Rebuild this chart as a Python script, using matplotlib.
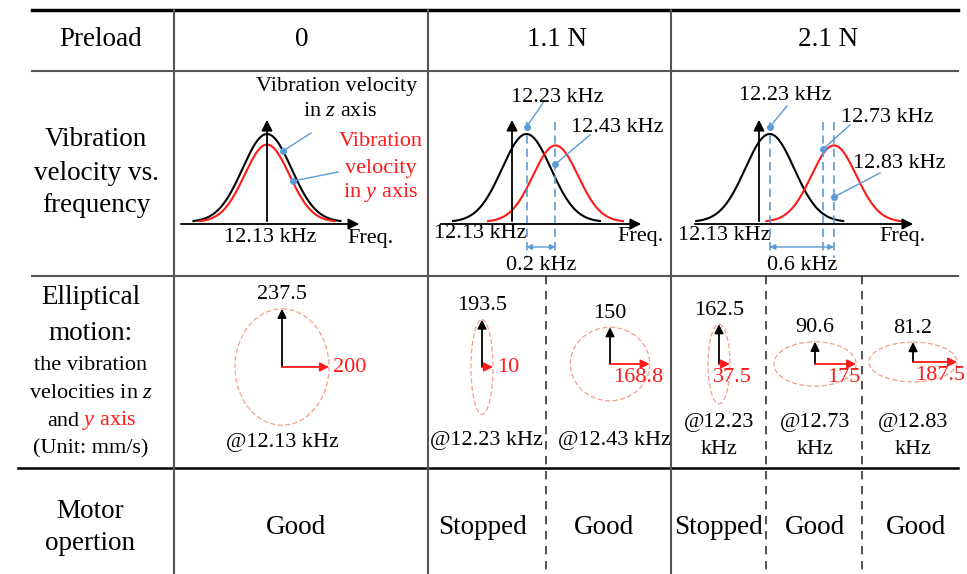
import numpy as np
import matplotlib
matplotlib.use("Agg")
import matplotlib.pyplot as plt
from matplotlib.patches import Ellipse

plt.rcParams['font.family'] = ['Liberation Serif', 'DejaVu Serif']
plt.rcParams['mathtext.fontset'] = 'custom'
plt.rcParams['mathtext.rm'] = 'Liberation Serif'
plt.rcParams['mathtext.it'] = 'Liberation Serif:italic'

# ---------------- DATA ----------------
preloads = ["0", "1.1 N", "2.1 N"]
z_peak_khz = [12.13, 12.23, 12.23]       # black curve (z axis) resonance
y_peak_khz = [12.13, 12.43, 12.83]       # red curve (y axis) resonance
extra_khz = [None, None, 12.73]          # extra marked frequency
base_khz = 12.13
z_amp = [1.0, 1.0, 1.0]
y_amp = [0.88, 0.87, 0.87]

ell_freq = ["12.13", "12.23", "12.43", "12.23", "12.73", "12.83"]
vz = [237.5, 193.5, 150, 162.5, 90.6, 81.2]
vy = [200, 10, 168.8, 37.5, 175, 187.5]
motor = ["Good", "Stopped", "Good", "Stopped", "Good", "Good"]

# ---------------- LAYOUT ----------------
BLUE = '#5b9bd5'
RED = '#ff1a1a'
GRID = '#555555'
BIG = 19.5
SMALL = 16

fig = plt.figure(figsize=(9.67, 5.74), dpi=100)
ax = fig.add_axes([0, 0, 1, 1])
ax.set_xlim(0, 967)
ax.set_ylim(574, 0)
ax.axis('off')

# table lines
ax.plot([32, 958], [10, 10], color='k', lw=2.5)
ax.plot([32, 958], [71, 71], color=GRID, lw=1.5)
ax.plot([32, 958], [276, 276], color=GRID, lw=1.5)
ax.plot([18, 958], [468, 468], color='k', lw=1.8)
for x in [174, 428, 671]:
    ax.plot([x, x], [10, 574], color=GRID, lw=1.5)
for x in [546, 766, 862]:
    ax.plot([x, x], [276, 574], color='#333333', lw=1.2, ls=(0, (5, 4)))

# header row
ax.text(101, 39, "Preload", fontsize=BIG, ha='center', va='center')
for xc, p in zip([302, 557, 828], preloads):
    ax.text(xc, 39, p, fontsize=BIG, ha='center', va='center')

# left labels
for yy, s in zip([140, 173, 206], ["Vibration", "velocity vs.", "frequency"]):
    ax.text(96, yy, s, fontsize=BIG, ha='center', va='center')
ax.text(91, 298, "Elliptical", fontsize=BIG, ha='center', va='center')
ax.text(91, 333, "motion:", fontsize=BIG, ha='center', va='center')
ax.text(91, 365, "the vibration", fontsize=SMALL, ha='center', va='center')
ax.text(91, 393, "velocities in $z$", fontsize=SMALL, ha='center', va='center')
ax.text(79, 421, "and", fontsize=SMALL, ha='right', va='center')
ax.text(82, 421, "$y$ axis", fontsize=SMALL, ha='left', va='center', color=RED)
ax.text(91, 449, "(Unit: mm/s)", fontsize=SMALL, ha='center', va='center')
ax.text(90, 511, "Motor", fontsize=BIG, ha='center', va='center')
ax.text(90, 544, "opertion", fontsize=BIG, ha='center', va='center')


# ---------------- frequency sketches ----------------
def axis_arrows(x_left, x_right, x0, y0=224, y_top=117):
    ax.annotate('', xy=(x_right, y0), xytext=(x_left, y0),
                arrowprops=dict(arrowstyle='-|>', color='k', lw=1.3, mutation_scale=16))
    ax.annotate('', xy=(x0, y_top), xytext=(x0, y0),
                arrowprops=dict(arrowstyle='-|>', color='k', lw=1.3, mutation_scale=16))


def gauss(cx, amp, sig, color, y0=222, h=88):
    xs = np.linspace(cx - 3 * sig, cx + 3 * sig, 200)
    ys = y0 - h * amp * np.exp(-0.5 * ((xs - cx) / sig) ** 2)
    ax.plot(xs, ys, color=color, lw=1.5)


def leader(x1, y1, x2, y2):
    ax.plot([x1, x2], [y1, y2], color=BLUE, lw=1)
    ax.plot(x2, y2, 'o', color=BLUE, ms=4)


# panel positions: axis origin (12.13 kHz) and px per kHz
origins = [267, 512, 759]
px_per_khz = [140, 145, 107]
axis_ext = [(178, 362), (438, 644), (692, 916)]

for i in range(3):
    x0 = origins[i]
    fx = lambda f: x0 + (f - base_khz) * px_per_khz[i]
    axis_arrows(axis_ext[i][0], axis_ext[i][1], x0)
    xz, xy = fx(z_peak_khz[i]), fx(y_peak_khz[i])
    gauss(xz, z_amp[i], 24.5, 'k')
    gauss(xy, y_amp[i], 22.5, RED)

# panel 0 labels
ax.text(270, 237, "12.13 kHz", fontsize=SMALL, ha='center', va='center')
ax.text(370, 238, "Freq.", fontsize=SMALL, ha='center', va='center')
ax.text(337, 86, "Vibration velocity", fontsize=SMALL, ha='center', va='center')
ax.text(340, 112, "in $z$ axis", fontsize=SMALL, ha='center', va='center')
ax.text(381, 142, "Vibration", fontsize=SMALL, ha='center', va='center', color=RED)
ax.text(381, 168, "velocity", fontsize=SMALL, ha='center', va='center', color=RED)
ax.text(381, 193, "in $y$ axis", fontsize=SMALL, ha='center', va='center', color=RED)
leader(311, 133, 283, 151)
leader(338, 172, 293, 181)

# panels 1 & 2: dashed markers, shift arrows, labels
for i in [1, 2]:
    x0 = origins[i]
    fx = lambda f: x0 + (f - base_khz) * px_per_khz[i]
    marks = [z_peak_khz[i], y_peak_khz[i]] + ([extra_khz[i]] if extra_khz[i] else [])
    for f in marks:
        ax.plot([fx(f), fx(f)], [122, 258], color=BLUE, lw=1.2, ls=(0, (5, 3)))
    xa, xb = fx(z_peak_khz[i]), fx(y_peak_khz[i])
    ax.annotate('', xy=(xb, 247), xytext=(xa, 247),
                arrowprops=dict(arrowstyle='<|-|>', color=BLUE, lw=1, mutation_scale=8,
                                shrinkA=0, shrinkB=0))
    shift = y_peak_khz[i] - z_peak_khz[i]
    ax.text((xa + xb) / 2, 265, f"{shift:.1f} kHz", fontsize=SMALL, ha='center', va='center')

ax.text(480, 234, "12.13 kHz", fontsize=SMALL, ha='center', va='center')
ax.text(640, 236, "Freq.", fontsize=SMALL, ha='center', va='center')
ax.text(557, 97, f"{z_peak_khz[1]:.2f} kHz", fontsize=SMALL, ha='center', va='center')
ax.text(617, 127, f"{y_peak_khz[1]:.2f} kHz", fontsize=SMALL, ha='center', va='center')
leader(543, 103, origins[1] + (z_peak_khz[1] - base_khz) * px_per_khz[1], 127)
leader(590, 135, origins[1] + (y_peak_khz[1] - base_khz) * px_per_khz[1], 164)

ax.text(724, 236, "12.13 kHz", fontsize=SMALL, ha='center', va='center')
ax.text(903, 236, "Freq.", fontsize=SMALL, ha='center', va='center')
ax.text(785, 96, f"{z_peak_khz[2]:.2f} kHz", fontsize=SMALL, ha='center', va='center')
ax.text(887, 118, f"{extra_khz[2]:.2f} kHz", fontsize=SMALL, ha='center', va='center')
ax.text(899, 164, f"{y_peak_khz[2]:.2f} kHz", fontsize=SMALL, ha='center', va='center')
fx2 = lambda f: origins[2] + (f - base_khz) * px_per_khz[2]
leader(787, 106, fx2(z_peak_khz[2]), 127)
leader(850, 125, fx2(extra_khz[2]), 149)
leader(880, 173, fx2(y_peak_khz[2]), 197)

# ---------------- elliptical motion ----------------
ell_cx = [282, 482, 610, 719, 815, 913]
ell_cy = [367, 367, 364, 364, 364, 362]
z_scale = 0.245
y_scale = 0.235
# where the y-value label goes: 'right' of the arrow tip or 'below' it
y_lab_pos = ['right', 'right', 'below', 'below', 'below', 'below']

for k in range(6):
    cx, cy = ell_cx[k], ell_cy[k]
    a = max(vy[k] * y_scale, 11)
    b = vz[k] * z_scale
    ax.add_patch(Ellipse((cx, cy), 2 * a, 2 * b, fill=False, ec='#f5a08c',
                         lw=0.9, ls=(0, (4, 2))))
    ax.annotate('', xy=(cx, cy - b), xytext=(cx, cy),
                arrowprops=dict(arrowstyle='-|>', color='k', lw=1.3, mutation_scale=13,
                                shrinkA=0, shrinkB=0))
    ax.annotate('', xy=(cx + a, cy), xytext=(cx, cy),
                arrowprops=dict(arrowstyle='-|>', color=RED, lw=1.3, mutation_scale=13,
                                shrinkA=0, shrinkB=0))
    ax.text(cx, cy - b - 14, f"{vz[k]:g}", fontsize=SMALL, ha='center', va='center')
    if y_lab_pos[k] == 'right':
        ax.text(cx + a + 4, cy, f"{vy[k]:g}", fontsize=SMALL, ha='left', va='center',
                color=RED)
    else:
        ax.text(min(cx + a / 2 + 8, 940), cy + 14, f"{vy[k]:g}", fontsize=SMALL,
                ha='center', va='center', color=RED)
    if k < 3:
        ax.text(cx + (4 if k else 0), 440 if k else 443, f"@{ell_freq[k]} kHz",
                fontsize=SMALL, ha='center', va='center')
    else:
        ax.text(cx, 423, f"@{ell_freq[k]}", fontsize=SMALL, ha='center', va='center')
        ax.text(cx, 449, "kHz", fontsize=SMALL, ha='center', va='center')

# ---------------- motor operation ----------------
motor_x = [296, 482, 604, 718, 815, 916]
for xm, s in zip(motor_x, motor):
    ax.text(xm, 527, s, fontsize=BIG, ha='center', va='center')

fig.savefig("out.png", dpi=100)
